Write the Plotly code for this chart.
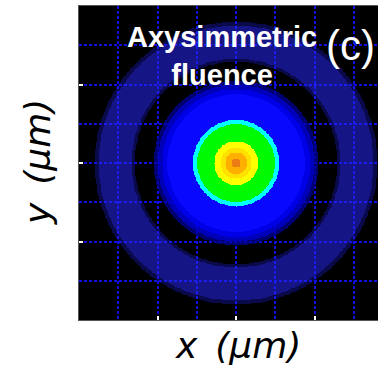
import numpy as np
import plotly.graph_objects as go

# Radial fluence profile: outer radius of each band (µm) and its normalised fluence
band_outer_r = [0.12, 0.28, 0.40, 0.56, 0.99, 1.10, 1.75, 1.88, 2.00, 2.10, 2.58, 2.66, 3.50, 3.60, 10.0]
band_fluence = [1.00, 0.92, 0.84, 0.76, 0.62, 0.50, 0.36, 0.30, 0.24, 0.18, 0.00, 0.06, 0.10, 0.06, 0.00]

# Colour for each fluence level (transparent lets the black plot background show)
level_values = [0.00, 0.06, 0.10, 0.18, 0.24, 0.30, 0.36, 0.50, 0.62, 0.76, 0.84, 0.92, 1.00]
level_colors = [
    "rgba(0,0,0,0)",
    "rgba(30,30,230,0.32)",
    "rgba(40,40,255,0.52)",
    "rgba(0,0,150,0.75)",
    "rgba(0,0,200,0.92)",
    "rgb(0,0,230)",
    "rgb(8,8,255)",
    "rgb(0,255,255)",
    "rgb(0,250,0)",
    "rgb(255,255,0)",
    "rgb(255,225,0)",
    "rgb(255,175,0)",
    "rgb(235,125,20)",
]

# Axis extents (µm) and tick / grid spacing
x_min, y_min, y_max = -4.0, -4.0, 4.0
tick_step = 2
grid_step = 1

# Sample grid for the axisymmetric map
xs = np.linspace(-4, 4, 401)
ys = np.linspace(-4, 4, 401)
X, Y = np.meshgrid(xs, ys)
R = np.hypot(X, Y)
idx = np.searchsorted(np.array(band_outer_r), R)
Z = np.array(band_fluence)[np.clip(idx, 0, len(band_fluence) - 1)]

colorscale = [[v, c] for v, c in zip(level_values, level_colors)]

fig = go.Figure(
    go.Heatmap(
        x=xs, y=ys, z=Z,
        zmin=0, zmax=1,
        colorscale=colorscale,
        showscale=False,
        hoverinfo="skip",
    )
)

W, H = 378, 374
ml, mr, mt, mb = 79, 0, 6, 54
plot_w = W - ml - mr
plot_h = H - mt - mb
px_per_um = plot_h / (y_max - y_min)
x_max = x_min + plot_w / px_per_um

grid_style = dict(color="rgb(15,15,225)", width=2, dash="3px,2px")

axis_common = dict(
    showticklabels=False,
    ticks="inside",
    ticklen=4,
    tickwidth=1.5,
    tickcolor="white",
    tick0=0,
    dtick=tick_step,
    showgrid=True,
    gridcolor=grid_style["color"],
    gridwidth=grid_style["width"],
    griddash=grid_style["dash"],
    minor=dict(
        dtick=grid_step,
        tick0=0,
        showgrid=True,
        gridcolor=grid_style["color"],
        gridwidth=grid_style["width"],
        griddash=grid_style["dash"],
        ticks="",
    ),
    zeroline=False,
    showline=True,
    linecolor="#555555",
    linewidth=1,
)

fig.update_xaxes(range=[x_min, x_max], mirror=True, **axis_common)
fig.update_yaxes(range=[y_min, y_max], mirror=False, **axis_common)

def px_to_paper(px, py):
    return (px - ml) / plot_w, (mt + plot_h - py) / plot_h

label_font = dict(family="DejaVu Sans", size=36, color="black")

ax, ay = px_to_paper(238, 345)
fig.add_annotation(text="<i>x\u2002(μm)</i>", x=ax, y=ay, xref="paper", yref="paper",
                   showarrow=False, font=label_font, xanchor="center", yanchor="middle")
ax, ay = px_to_paper(37, 162)
fig.add_annotation(text="<i>y\u2002(μm)</i>", x=ax, y=ay, xref="paper", yref="paper",
                   showarrow=False, font=label_font, textangle=-90,
                   xanchor="center", yanchor="middle")

ax, ay = px_to_paper(222, 56)
fig.add_annotation(text="<b>Axysimmetric<br>fluence</b>", x=ax, y=ay, xref="paper", yref="paper",
                   showarrow=False, align="center",
                   font=dict(family="Liberation Sans", size=29, color="white"),
                   xanchor="center", yanchor="middle")
ax, ay = px_to_paper(350, 46)
fig.add_annotation(text="(c)", x=ax, y=ay, xref="paper", yref="paper",
                   showarrow=False,
                   font=dict(family="Liberation Sans", size=42, color="white"),
                   xanchor="center", yanchor="middle")

fig.update_layout(
    width=W, height=H,
    margin=dict(l=ml, r=mr, t=mt, b=mb, pad=0),
    paper_bgcolor="white",
    plot_bgcolor="black",
    showlegend=False,
)

fig.write_html("out.html")
